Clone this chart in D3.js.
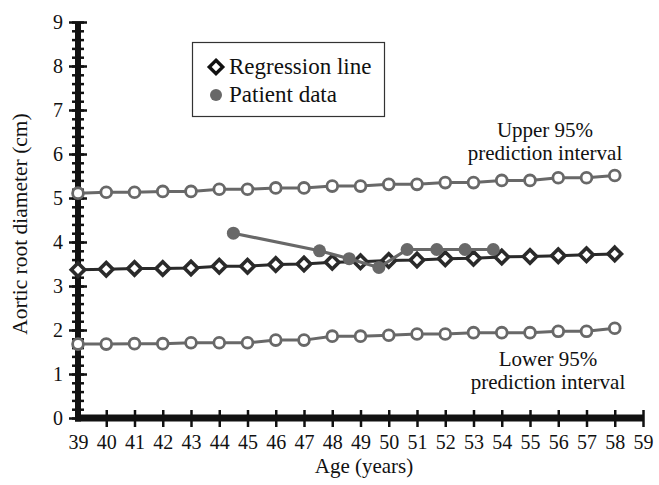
<!DOCTYPE html>
<html><head><meta charset="utf-8">
<script src="https://cdn.jsdelivr.net/npm/d3@7"></script>
<style>body{margin:0;background:#fff}svg{display:block}svg text{font-family:'Liberation Serif','Times New Roman','DejaVu Serif',serif !important;fill:#111}</style>
</head><body>
<svg id="c" width="659" height="485" style="font-family:'Liberation Serif','Times New Roman',serif"></svg>
<script>
const ages = d3.range(39, 59);
const upper = [5.11,5.13,5.13,5.15,5.15,5.2,5.2,5.23,5.23,5.27,5.27,5.31,5.31,5.35,5.35,5.4,5.4,5.46,5.46,5.51];
const regression = [3.37,3.38,3.40,3.40,3.41,3.45,3.45,3.49,3.50,3.54,3.55,3.58,3.59,3.62,3.63,3.66,3.67,3.69,3.71,3.73];
const lower = [1.68,1.68,1.69,1.69,1.71,1.71,1.71,1.77,1.77,1.86,1.86,1.88,1.91,1.91,1.94,1.94,1.94,1.97,1.97,2.04];
const patientAges = [44.5,47.55,48.6,49.65,50.65,51.7,52.7,53.7];
const patientValues = [4.2,3.80,3.62,3.42,3.83,3.83,3.83,3.83];
const xTicks = d3.range(39, 60);
const yTicks = d3.range(0, 10);
const yMinorTicks = d3.range(0, 9.01, 0.2);

const SERIF = "'Liberation Serif','Times New Roman','DejaVu Serif',serif";
const svg = d3.select("#c");
const m = {l:78, r:16, t:22, b:67};
const W = 659, H = 485;
const x = d3.scaleLinear().domain([39,59]).range([m.l, W-m.r]);
const y = d3.scaleLinear().domain([0,9]).range([H-m.b, m.t]);
const FS = 20;

const ax = svg.append("g");
ax.append("g").attr("transform",`translate(${m.l},0)`)
  .call(d3.axisLeft(y).tickValues(yMinorTicks).tickSize(0).tickFormat(""))
  .call(g=>g.select(".domain").remove())
  .call(g=>g.selectAll(".tick").append("line").attr("x1",-6).attr("x2",6).attr("stroke","#111").attr("stroke-width",2.5));
ax.append("g").attr("transform",`translate(${m.l},0)`)
  .call(d3.axisLeft(y).tickValues(yTicks).tickSize(0).tickPadding(15).tickFormat(d3.format("d")))
  .attr("font-family",SERIF)
  .call(g=>g.select(".domain").remove())
  .call(g=>g.selectAll(".tick line").remove())
  .call(g=>g.selectAll(".tick").append("line").attr("x1",-9).attr("x2",9).attr("stroke","#111").attr("stroke-width",2.5))
  .call(g=>g.selectAll(".tick text").attr("font-size",FS).attr("fill","#111").style("font-family",SERIF));
ax.append("g").attr("transform",`translate(0,${y(0)})`)
  .call(d3.axisBottom(x).tickValues(xTicks).tickSize(0).tickPadding(17).tickFormat(d3.format("d")))
  .attr("font-family",SERIF)
  .call(g=>g.select(".domain").remove())
  .call(g=>g.selectAll(".tick").filter(d=>d>39).append("line").attr("y1",-8).attr("y2",9).attr("stroke","#111").attr("stroke-width",2.5))
  .call(g=>g.selectAll(".tick text").attr("font-size",FS).attr("fill","#111").style("font-family",SERIF));
ax.append("line").attr("x1",x(39)).attr("x2",x(39)).attr("y1",y(9)).attr("y2",y(0)+3.5).attr("stroke","#111").attr("stroke-width",6);
ax.append("line").attr("x1",x(39)-3).attr("x2",x(59)).attr("y1",y(0)).attr("y2",y(0)).attr("stroke","#111").attr("stroke-width",7);

function txt(xp, yp, s, fs, anchor){
  return svg.append("text").attr("x",xp).attr("y",yp).attr("text-anchor",anchor||"middle")
    .attr("font-size",fs).style("font-family",SERIF).text(s);
}
svg.append("text").attr("transform",`translate(27,224) rotate(-90)`).attr("text-anchor","middle").attr("font-size",21.5).style("font-family",SERIF).text("Aortic root diameter (cm)");
txt(364, 473, "Age (years)", 21);

const line = d3.line().x(d=>x(d[0])).y(d=>y(d[1]));
const grey = "#686868";
function circSeries(vals){
  const pts = ages.map((a,i)=>[a,vals[i]]);
  svg.append("path").datum(pts).attr("d",line).attr("fill","none").attr("stroke",grey).attr("stroke-width",3);
  svg.append("g").selectAll("circle").data(pts).join("circle")
    .attr("cx",d=>x(d[0])).attr("cy",d=>y(d[1])).attr("r",5.4)
    .attr("fill","#fff").attr("stroke",grey).attr("stroke-width",2.8);
}
circSeries(upper);
circSeries(lower);

const rpts = ages.map((a,i)=>[a,regression[i]]);
svg.append("path").datum(rpts).attr("d",line).attr("fill","none").attr("stroke","#2a2a2a").attr("stroke-width",3);
const diamond = d3.symbol().type(d3.symbolDiamond2).size(115);
svg.append("g").selectAll("path").data(rpts).join("path")
  .attr("transform",d=>`translate(${x(d[0])},${y(d[1])})`).attr("d",diamond)
  .attr("fill","#fff").attr("stroke","#2a2a2a").attr("stroke-width",3.6);

const ppts = patientAges.map((a,i)=>[a,patientValues[i]]);
svg.append("path").datum(ppts).attr("d",line).attr("fill","none").attr("stroke",grey).attr("stroke-width",3.2);
svg.append("g").selectAll("circle").data(ppts).join("circle")
  .attr("cx",d=>x(d[0])).attr("cy",d=>y(d[1])).attr("r",6.5).attr("fill",grey);

txt(545, 137, "Upper 95%", 21);
txt(545, 160, "prediction interval", 21);
txt(548, 366, "Lower 95%", 21);
txt(548, 389, "prediction interval", 21);

const lg = svg.append("g");
lg.append("rect").attr("x",192.5).attr("y",42.5).attr("width",192).attr("height",74).attr("fill","#fff").attr("stroke","#333").attr("stroke-width",1.2);
lg.append("path").attr("transform","translate(216,67)").attr("d",diamond).attr("fill","#fff").attr("stroke","#111").attr("stroke-width",3.4);
lg.append("circle").attr("cx",216).attr("cy",95).attr("r",6).attr("fill",grey);
txt(229, 74, "Regression line", 23, "start");
txt(229, 102, "Patient data", 23, "start");
</script>
</body></html>
